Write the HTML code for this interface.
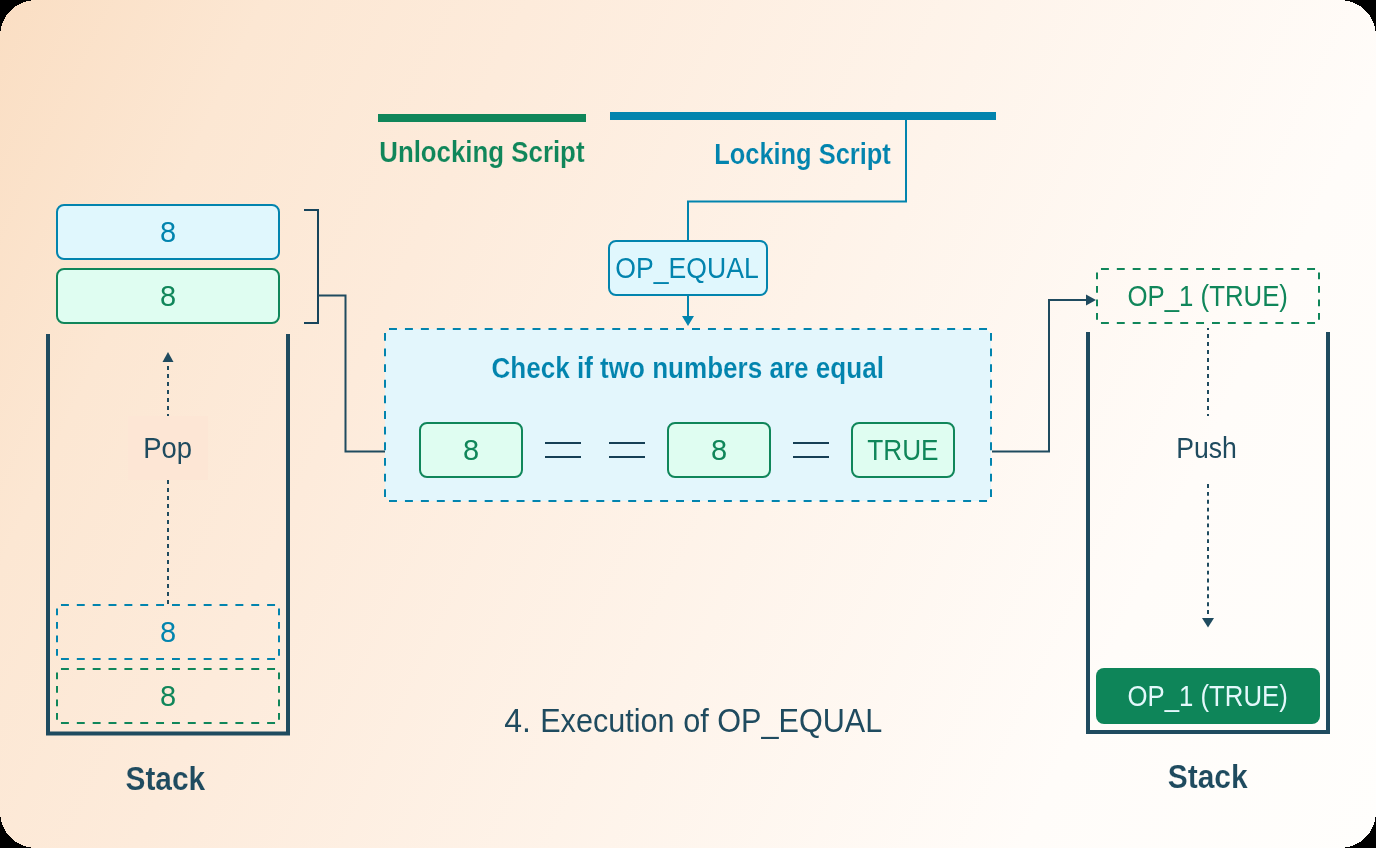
<!DOCTYPE html>
<html><head><meta charset="utf-8">
<style>
html,body{margin:0;padding:0;background:#000;width:1376px;height:848px;overflow:hidden}
svg{display:block;will-change:transform}
text{font-family:"Liberation Sans",sans-serif}
</style></head>
<body>
<svg width="1376" height="848" viewBox="0 0 1376 848">
<defs>
<linearGradient id="bg" gradientUnits="userSpaceOnUse" x1="-39.8" y1="84.6" x2="1415.8" y2="763.4">
<stop offset="0" stop-color="rgb(250,222,195)"/>
<stop offset="0.15" stop-color="rgb(252,231,211)"/>
<stop offset="0.3" stop-color="rgb(253,235,219)"/>
<stop offset="0.8" stop-color="rgb(255,252,249)"/>
<stop offset="1" stop-color="rgb(255,254,252)"/>
</linearGradient>
<clipPath id="clip57_605"><rect x="55" y="603" width="226" height="58" rx="7.0"/></clipPath>
<clipPath id="clip57_669"><rect x="55" y="667" width="226" height="58" rx="7.0"/></clipPath>
<clipPath id="clip385_329"><rect x="383" y="327" width="610" height="176" rx="9.0"/></clipPath>
<clipPath id="clip1097_269"><rect x="1095" y="267" width="226" height="58" rx="7.0"/></clipPath>
</defs>
<rect x="0" y="0" width="1376" height="848" rx="36" ry="36" fill="url(#bg)" shape-rendering="crispEdges"/>
<rect x="378" y="114" width="208" height="8" fill="#10865A"/>
<rect x="610" y="112" width="386" height="8" fill="#0284AE"/>
<text x="379.22" y="161.5" font-size="29" fill="#10865A" font-weight="bold" stroke="url(#bg)" stroke-width="0.12" textLength="205.29" lengthAdjust="spacingAndGlyphs">Unlocking Script</text>
<text x="714.18" y="164" font-size="29" fill="#0284AE" font-weight="bold" stroke="url(#bg)" stroke-width="0.12" textLength="176.61" lengthAdjust="spacingAndGlyphs">Locking Script</text>
<path d="M906 120 V201.5 H688 V241" fill="none" stroke="#0284AE" stroke-width="2"/>
<rect x="609" y="241" width="158" height="54" rx="7" fill="#E0F7FD" stroke="#0284AE" stroke-width="2"/>
<text x="615.37" y="278" font-size="29" fill="#0284AE" textLength="143.41" lengthAdjust="spacingAndGlyphs">OP_EQUAL</text>
<path d="M688 296 V317" fill="none" stroke="#0284AE" stroke-width="2"/>
<path d="M682 316 H694 L688 326 Z" fill="#0284AE"/>
<rect x="57" y="205" width="222" height="54" rx="7" fill="#E0F7FD" stroke="#0284AE" stroke-width="2"/>
<text x="168" y="242" font-size="29" fill="#0284AE" text-anchor="middle">8</text>
<rect x="57" y="269" width="222" height="54" rx="7" fill="#DFFDF1" stroke="#10865A" stroke-width="2"/>
<text x="168" y="306" font-size="29" fill="#10865A" text-anchor="middle">8</text>
<path d="M304 210 H318 V323 H304" fill="none" stroke="#17445B" stroke-width="2"/>
<path d="M318 295.5 H345.5 V451.5 H386" fill="none" stroke="#1F4B5F" stroke-width="2"/>
<path d="M48 334 V733.5 H288 V334" fill="none" stroke="#1F4B5F" stroke-width="4"/>
<rect x="128" y="416" width="80" height="64" fill="rgb(253,230,213)"/>
<path d="M162.5 362 H173.5 L168 352 Z" fill="#1F4B5F"/>
<path d="M168 366 V416" fill="none" stroke="#1F4B5F" stroke-width="2" stroke-dasharray="4 4"/>
<path d="M168 480 V605" fill="none" stroke="#1F4B5F" stroke-width="2" stroke-dasharray="4 4"/>
<text x="143.19" y="458.3" font-size="29" fill="#1F4B5F" textLength="48.8" lengthAdjust="spacingAndGlyphs">Pop</text>
<g fill="none" clip-path="url(#clip57_605)"><path d="M57 605 L279 605" stroke="#0284AE" stroke-width="2" stroke-dasharray="7.929 7.929" stroke-dashoffset="-3.964"/>
<path d="M279 605 L279 659" stroke="#0284AE" stroke-width="2" stroke-dasharray="6.750 6.750" stroke-dashoffset="-3.375"/>
<path d="M57 659 L279 659" stroke="#0284AE" stroke-width="2" stroke-dasharray="7.929 7.929" stroke-dashoffset="-3.964"/>
<path d="M57 605 L57 659" stroke="#0284AE" stroke-width="2" stroke-dasharray="6.750 6.750" stroke-dashoffset="-3.375"/></g>

<text x="168" y="642" font-size="29" fill="#0284AE" text-anchor="middle">8</text>
<g fill="none" clip-path="url(#clip57_669)"><path d="M57 669 L279 669" stroke="#10865A" stroke-width="2" stroke-dasharray="7.929 7.929" stroke-dashoffset="-3.964"/>
<path d="M279 669 L279 723" stroke="#10865A" stroke-width="2" stroke-dasharray="6.750 6.750" stroke-dashoffset="-3.375"/>
<path d="M57 723 L279 723" stroke="#10865A" stroke-width="2" stroke-dasharray="7.929 7.929" stroke-dashoffset="-3.964"/>
<path d="M57 669 L57 723" stroke="#10865A" stroke-width="2" stroke-dasharray="6.750 6.750" stroke-dashoffset="-3.375"/></g>

<text x="168" y="706" font-size="29" fill="#10865A" text-anchor="middle">8</text>
<text x="125.51" y="790" font-size="33" fill="#1F4B5F" font-weight="bold" stroke="url(#bg)" stroke-width="0.12" textLength="79.65" lengthAdjust="spacingAndGlyphs">Stack</text>
<rect x="385" y="329" width="606" height="172" rx="8" fill="#E3F6FC"/>
<g fill="none" clip-path="url(#clip385_329)"><path d="M385 329 L991 329" stroke="#0284AE" stroke-width="2" stroke-dasharray="7.974 7.974" stroke-dashoffset="-3.987"/>
<path d="M991 329 L991 501" stroke="#0284AE" stroke-width="2" stroke-dasharray="7.818 7.818" stroke-dashoffset="-3.909"/>
<path d="M385 501 L991 501" stroke="#0284AE" stroke-width="2" stroke-dasharray="7.974 7.974" stroke-dashoffset="-3.987"/>
<path d="M385 329 L385 501" stroke="#0284AE" stroke-width="2" stroke-dasharray="7.818 7.818" stroke-dashoffset="-3.909"/></g>

<text x="491.43" y="378" font-size="29" fill="#0284AE" font-weight="bold" stroke="#E3F6FC" stroke-width="0.12" textLength="392.49" lengthAdjust="spacingAndGlyphs">Check if two numbers are equal</text>
<rect x="420" y="423" width="102" height="54" rx="7" fill="#DFFDF1" stroke="#10865A" stroke-width="2"/>
<rect x="668" y="423" width="102" height="54" rx="7" fill="#DFFDF1" stroke="#10865A" stroke-width="2"/>
<rect x="852" y="423" width="102" height="54" rx="7" fill="#DFFDF1" stroke="#10865A" stroke-width="2"/>
<text x="471" y="460" font-size="29" fill="#10865A" text-anchor="middle">8</text>
<text x="719" y="460" font-size="29" fill="#10865A" text-anchor="middle">8</text>
<text x="867.22" y="460" font-size="29" fill="#10865A" textLength="71.3" lengthAdjust="spacingAndGlyphs">TRUE</text>
<path d="M545 443 H581 M545 457 H581 M609 443 H645 M609 457 H645 M793 443 H829 M793 457 H829" fill="none" stroke="#163F55" stroke-width="2"/>
<path d="M992 451.5 H1049 V300 H1087" fill="none" stroke="#1F4B5F" stroke-width="2"/>
<path d="M1086 294.5 V305.5 L1096 300 Z" fill="#1F4B5F"/>
<g fill="none" clip-path="url(#clip1097_269)"><path d="M1097 269 L1319 269" stroke="#10865A" stroke-width="2" stroke-dasharray="7.929 7.929" stroke-dashoffset="-3.964"/>
<path d="M1319 269 L1319 323" stroke="#10865A" stroke-width="2" stroke-dasharray="6.750 6.750" stroke-dashoffset="-3.375"/>
<path d="M1097 323 L1319 323" stroke="#10865A" stroke-width="2" stroke-dasharray="7.929 7.929" stroke-dashoffset="-3.964"/>
<path d="M1097 269 L1097 323" stroke="#10865A" stroke-width="2" stroke-dasharray="6.750 6.750" stroke-dashoffset="-3.375"/></g>

<text x="1127.56" y="305.6" font-size="29" fill="#10865A" textLength="160.39" lengthAdjust="spacingAndGlyphs">OP_1 (TRUE)</text>
<path d="M1088 332 V732 H1328 V332" fill="none" stroke="#1F4B5F" stroke-width="4"/>
<path d="M1208 328 V416" fill="none" stroke="#1F4B5F" stroke-width="2" stroke-dasharray="4 4" stroke-dashoffset="2"/>
<path d="M1208 484 V614" fill="none" stroke="#1F4B5F" stroke-width="2" stroke-dasharray="3.94 3.94"/>
<path d="M1202 618 H1214 L1208 627.5 Z" fill="#1F4B5F"/>
<text x="1176.18" y="457.8" font-size="29" fill="#1F4B5F" textLength="60.59" lengthAdjust="spacingAndGlyphs">Push</text>
<rect x="1096" y="668" width="224" height="56" rx="8" fill="#0E8559"/>
<text x="1127.53" y="705.6" font-size="29" fill="#E3F8FB" textLength="160.24" lengthAdjust="spacingAndGlyphs">OP_1 (TRUE)</text>
<text x="1167.77" y="788" font-size="33" fill="#1F4B5F" font-weight="bold" stroke="url(#bg)" stroke-width="0.12" textLength="79.79" lengthAdjust="spacingAndGlyphs">Stack</text>
<text x="504.26" y="732" font-size="33" fill="#1F4B5F" textLength="26.67" lengthAdjust="spacingAndGlyphs">4.</text>
<text x="540.18" y="732" font-size="33" fill="#1F4B5F" textLength="342.13" lengthAdjust="spacingAndGlyphs">Execution of OP_EQUAL</text>
</svg>
</body></html>
